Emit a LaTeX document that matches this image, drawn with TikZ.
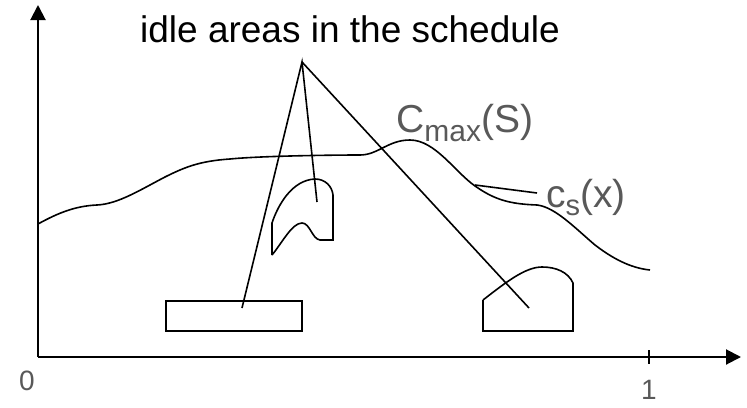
\documentclass[tikz,border=0pt]{standalone}
\usepackage{fontspec}
\setmainfont{Liberation Sans}
\usetikzlibrary{arrows.meta}
\definecolor{labelgray}{RGB}{89,89,89}

\begin{document}
\begin{tikzpicture}[x=1pt,y=-1pt,>={Triangle[length=15pt,width=15pt]},
  every node/.style={inner sep=0pt},
  axis/.style={line width=2pt},
  idle/.style={line width=1.6pt},
  pointer/.style={line width=1.6pt},
  biglabel/.style={labelgray,anchor=base west,font=\fontsize{39}{43}\selectfont},
  ticklabel/.style={labelgray,anchor=base,font=\fontsize{28}{30}\selectfont}]
\useasboundingbox (0,0) rectangle (747,407);
% ==================== AXES ====================
\coordinate (O) at (38,357);
\coordinate (ytop) at (38,5);
\coordinate (xend) at (741,357);
\draw[axis,->] (O) -- (ytop);
\draw[axis,->] (O) -- (xend);
% Tick at x=1
\draw[idle] (649,350) -- (649,364);
\node[ticklabel] (zero) at (27,390) {0};
\node[ticklabel] (one) at (649,399) {1};

% ==================== CURVE c_s(x) ====================
\draw[idle] (38,224) .. controls (58,213) and (75,206) .. (97,205)
  .. controls (118,204) and (140,190) .. (165,177)
  .. controls (185,167) and (200,161) .. (230,159)
  .. controls (260,156) and (330,155) .. (360,155)
  .. controls (378,155) and (388,140) .. (410,140)
  .. controls (435,140) and (455,172) .. (475,186)
  .. controls (495,200) and (510,204) .. (537,205)
  .. controls (555,207) and (575,228) .. (595,245)
  .. controls (612,258) and (630,268) .. (650,270);

% ==================== IDLE AREAS ====================
% Flat box
\draw[idle] (166,301) rectangle (302,331);
% Middle area
\draw[idle] (272,255) -- (272,223)
  .. controls (278,205) and (292,180) .. (315,179)
  .. controls (325,179) and (332,186) .. (333,195) -- (333,240) -- (320,240)
  .. controls (312,239) and (310,223) .. (302,223)
  .. controls (292,223) and (282,243) .. (272,255);
% Right area
\draw[idle] (483,300) -- (483,331) -- (573,331) -- (573,283)
  .. controls (568,272) and (556,267) .. (542,267)
  .. controls (525,267) and (505,283) .. (483,300);

% ==================== LABELS ====================
\node[anchor=base west,font=\fontsize{37}{40}\selectfont] (idletext) at (140,42) {idle areas in the schedule};
\node[biglabel] (cmax) at (396,132) {C\raisebox{-9pt}{\fontsize{30}{32}\selectfont max}(S)};
\node[biglabel] (cs) at (546,207) {c\raisebox{-8pt}{\fontsize{29}{31}\selectfont s}(x)};
% Pointers
\coordinate (apex) at (302,62);
\coordinate (boxend) at (242,308);
\coordinate (midend) at (317,202);
\coordinate (rightend) at (529,308);
\draw[pointer] (boxend) -- (apex) -- (midend);
\draw[pointer] (apex) -- (rightend);
\coordinate (csfoot) at (475,185);
\coordinate (cstip) at (537,193);
\draw[pointer] (csfoot) -- (cstip);
\end{tikzpicture}
\end{document}
